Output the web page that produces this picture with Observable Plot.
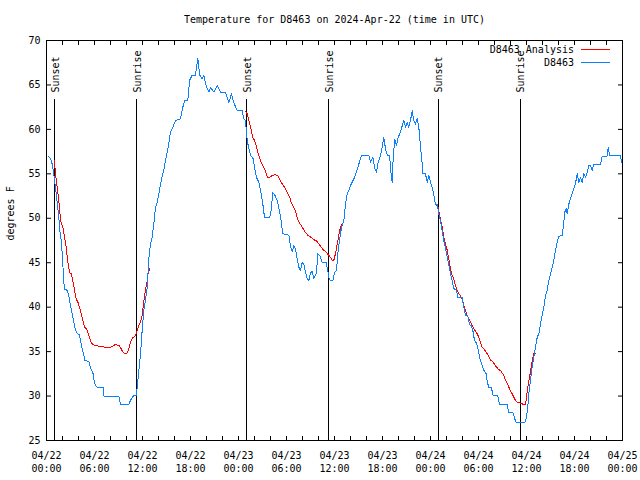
<!DOCTYPE html>
<html><head><meta charset="utf-8">
<script src="https://cdn.jsdelivr.net/npm/d3@7"></script>
<script src="https://cdn.jsdelivr.net/npm/@observablehq/plot@0.6"></script>
<style>body{margin:0;background:#fff} svg{display:block}</style>
</head><body><div id="chart"></div>
<script>
const titleText = "Temperature for D8463 on 2024-Apr-22 (time in UTC)";
const yLabel = "degrees F";
const seriesNames = ["D8463 Analysis", "D8463"];
const seriesColors = ["#ff0000", "#0a80ff"];
const yTicks = [25, 30, 35, 40, 45, 50, 55, 60, 65, 70];

// hours since 2024-04-22 00:00 UTC
const obsHours = [0.2,0.5,0.71,0.91,1.12,1.34,1.54,1.66,1.84,2.0,2.16,2.29,2.59,2.79,3.0,3.29,3.54,3.84,4.12,4.25,4.46,4.66,4.79,5.29,5.5,5.79,5.91,6.12,6.34,7.09,7.16,9.04,9.25,10.29,10.5,10.84,11.21,11.34,11.46,11.62,11.75,11.96,12.16,12.37,12.59,12.79,13.0,13.21,13.41,13.62,13.84,14.04,14.34,14.66,14.96,15.21,15.5,15.79,16.12,16.75,17.04,17.25,17.66,17.88,18.21,18.62,18.91,19.16,19.46,19.66,19.88,20.29,20.5,20.91,21.34,21.75,22.38,22.79,23.12,23.41,23.84,24.46,24.66,24.88,25.0,25.16,25.5,25.84,26.0,26.25,26.54,26.84,27.04,27.25,27.91,28.09,28.29,28.54,28.84,29.16,29.34,29.54,30.29,30.5,30.71,30.91,31.12,31.34,31.54,31.75,31.96,32.16,32.38,32.59,32.79,33.0,33.21,33.41,33.75,33.91,34.16,34.46,34.96,35.16,35.34,35.5,35.79,36.0,36.25,36.41,36.62,36.88,37.16,37.38,37.59,37.79,38.0,38.21,38.5,38.75,39.04,39.38,40.29,40.5,40.79,41.04,41.25,41.46,41.75,42.0,42.16,42.38,42.59,42.88,43.09,43.21,43.34,43.54,43.75,43.96,44.25,44.46,44.66,44.88,45.09,45.29,45.5,45.71,45.91,46.12,46.34,46.54,46.75,46.96,47.04,47.37,47.59,47.79,48.0,48.21,48.41,48.62,48.84,49.04,49.25,49.46,49.66,49.88,50.09,50.29,50.5,50.71,50.91,51.25,51.41,51.96,52.16,52.38,52.66,52.88,53.09,53.29,53.5,53.75,53.91,54.12,54.38,54.66,54.96,55.09,55.29,55.59,55.84,56.41,56.62,57.59,57.79,58.34,58.54,58.75,59.79,60.0,60.16,60.29,60.5,60.71,60.91,61.12,61.34,61.54,61.75,61.96,62.16,62.38,62.59,62.79,63.0,63.21,63.41,63.62,63.84,64.04,64.46,64.59,64.79,64.96,65.09,65.29,65.5,65.84,66.12,66.34,66.54,66.75,66.96,67.16,67.38,67.59,67.79,68.0,68.21,68.41,69.25,69.46,70.09,70.21,70.37,71.75,71.87];
const obsTemps = [57.0,56.7,56.1,55.0,53.5,51.7,50.1,48.6,47.5,45.6,42.8,42.0,41.9,41.3,40.2,38.9,37.7,37.0,36.9,36.25,35.3,34.6,34.0,33.9,33.1,32.7,31.9,31.2,31.0,31.0,30.0,30.0,29.1,29.1,29.5,30.0,30.1,31.0,32.1,33.6,34.75,37.4,39.6,40.75,42.25,45.4,47.1,47.9,49.3,51.25,51.8,52.75,54.25,55.4,56.9,58.0,59.7,60.25,61.0,61.2,62.5,63.2,63.2,65.5,66.1,66.1,68.0,66.1,65.7,66.1,65.1,64.2,64.75,64.2,64.9,64.2,64.2,63.0,64.0,63.0,62.1,62.1,61.2,61.0,59.5,58.4,57.1,56.7,55.75,54.6,54.05,52.75,51.6,50.1,50.1,50.9,52.9,52.6,52.0,50.7,49.6,48.25,48.1,46.9,46.2,46.9,46.6,45.4,44.5,44.1,45.0,44.9,43.9,43.2,43.0,43.9,44.0,43.2,43.9,46.0,45.8,45.0,45.0,44.1,43.2,43.0,43.0,43.9,44.1,46.0,47.5,49.0,49.7,51.6,52.75,53.1,53.7,54.05,54.6,55.2,56.1,57.1,57.1,56.3,56.9,55.6,55.2,56.3,57.1,58.2,59.1,57.8,57.1,57.1,54.8,54.05,56.9,58.9,58.2,59.1,59.7,60.4,61.0,60.25,60.8,60.25,61.0,62.1,61.0,60.6,61.2,60.25,58.0,56.1,55.0,55.0,54.05,54.8,54.05,53.5,52.6,51.6,51.6,50.5,49.7,48.6,47.5,46.6,45.6,44.7,43.75,43.0,42.1,41.9,41.05,41.05,40.0,39.1,39.0,38.05,37.9,37.4,36.25,35.95,35.5,34.4,33.6,32.9,32.5,31.6,31.0,31.0,30.06,30.06,29.05,29.05,28.1,28.1,27.4,27.0,27.0,27.6,28.75,30.25,31.75,33.25,34.4,35.5,36.6,37.0,38.1,39.1,40.0,41.3,41.9,43.0,43.75,44.5,45.25,46.4,47.3,47.95,48.1,49.0,50.7,51.1,50.5,51.6,52.2,53.1,53.9,55.0,54.05,54.6,54.05,55.0,54.6,55.2,55.9,55.9,55.4,56.1,56.1,57.0,57.0,58.0,57.1,57.1,56.3];

// analysis series; null marks a gap between runs
const anaHours = [1.0,1.12,1.34,1.54,1.66,1.84,2.04,2.25,2.46,2.66,2.88,3.09,3.29,3.5,3.71,3.91,4.12,4.34,4.54,4.75,4.96,5.16,5.38,5.59,5.79,6.12,6.54,7.38,8.0,8.21,8.62,9.04,9.25,9.46,9.75,10.0,10.29,10.5,10.79,11.12,11.34,11.54,11.75,11.96,12.16,12.37,12.59,12.71,12.91,null,
24.88,25.09,25.29,25.59,25.79,26.0,26.21,26.41,26.62,26.84,27.04,27.25,27.46,27.66,27.88,28.21,28.62,28.91,29.12,29.34,29.54,29.75,29.96,30.16,30.38,30.59,30.79,31.0,31.21,31.41,31.62,31.84,32.09,32.38,32.66,33.0,33.41,33.84,34.04,34.34,34.66,34.96,35.21,35.5,35.71,35.91,36.12,36.34,36.54,36.75,36.88,null,
48.75,48.91,49.25,49.46,49.66,49.88,50.09,50.29,50.5,50.71,50.91,51.12,51.34,51.54,51.75,51.96,52.16,52.38,52.59,52.79,53.0,53.21,53.41,53.62,53.84,54.04,54.25,54.46,54.66,54.88,55.09,55.29,55.5,55.71,55.91,56.12,56.34,56.54,56.75,56.96,57.16,57.38,57.59,57.79,58.0,58.21,58.41,58.62,58.84,59.25,59.66,59.88,60.0,60.16,60.29,60.5,60.71,60.91,61.12];
const anaTemps = [56.5,55.0,53.5,52.0,50.7,49.4,49.0,47.9,46.75,45.1,43.9,43.75,43.0,41.9,40.9,40.6,40.0,39.25,38.5,37.75,37.6,37.2,36.6,36.05,35.8,35.7,35.6,35.5,35.45,35.6,35.8,35.7,35.45,35.1,34.75,34.75,35.3,36.05,36.55,36.8,37.4,37.95,38.3,39.1,40.6,41.9,43.0,43.9,44.3,null,
62.0,61.75,61.0,59.9,59.1,58.75,58.2,57.4,56.9,56.3,55.9,55.6,55.0,54.6,54.6,54.8,54.9,54.8,54.4,54.05,53.8,53.5,53.1,52.75,52.4,51.8,51.4,51.1,50.5,49.9,49.45,49.2,48.8,48.4,48.1,47.9,47.6,47.4,47.1,46.75,46.4,46.2,45.9,45.6,45.3,45.25,46.0,47.1,48.1,49.0,49.3,null,
51.4,51.4,49.8,49.0,47.9,47.1,46.4,45.4,44.3,43.6,43.2,42.4,41.9,41.5,41.3,40.9,40.2,39.6,39.1,38.7,38.3,37.95,37.6,37.3,37.0,36.6,36.05,35.5,35.3,35.05,34.75,34.45,34.05,33.9,33.7,33.4,33.2,32.95,32.9,32.6,32.3,31.75,31.4,31.0,30.6,30.25,29.9,29.5,29.3,29.2,29.05,29.0,29.9,31.0,31.75,32.7,34.0,34.75,34.75];

const eventLabels = ["Sunset", "Sunrise", "Sunset", "Sunrise", "Sunset", "Sunrise"];
const eventHours = [1.05, 11.3, 25.05, 35.3, 48.95, 59.2];

const start = Date.UTC(2024, 3, 22);
const toDate = h => (h == null ? null : new Date(start + h * 3600e3));
const obs = obsHours.map((h, i) => ({t: toDate(h), v: obsTemps[i]}));
const ana = anaHours.map((h, i) => ({t: toDate(h), v: anaTemps[i]}));
const events = eventHours.map((h, i) => ({t: toDate(h), label: eventLabels[i]}));
const x0 = toDate(0), x1 = toDate(72);
const xMajor = d3.utcHour.every(6).range(x0, new Date(+x1 + 1));
const xMinor = d3.utcHour.every(2).range(x0, new Date(+x1 + 1));
const blank = () => "";

const chart = Plot.plot({
  width: 640, height: 480,
  marginLeft: 46, marginRight: 18, marginTop: 40, marginBottom: 40,
  style: {fontFamily: "'DejaVu Sans Mono', monospace", fontSize: "10px", color: "black", background: "white"},
  x: {type: "utc", domain: [x0, x1]},
  y: {domain: [25, 70]},
  marks: [
    Plot.ruleX(events, {x: "t", insetTop: 59, stroke: "black", strokeWidth: 1, shapeRendering: "crispEdges"}),
    Plot.text(events, {x: "t", text: "label", frameAnchor: "top", rotate: -90, textAnchor: "start", lineAnchor: "middle", dy: 52, dx: 1, fill: "black"}),
    Plot.line(ana, {x: "t", y: "v", stroke: seriesColors[0], strokeWidth: 1, shapeRendering: "crispEdges"}),
    Plot.line(obs, {x: "t", y: "v", stroke: seriesColors[1], strokeWidth: 1, shapeRendering: "crispEdges"}),
    Plot.axisX(xMinor, {anchor: "bottom", tickSize: 4, dy: -4, tickFormat: blank, label: null, stroke: "black"}),
    Plot.axisX(xMinor, {anchor: "top", tickSize: 4, dy: 4, tickFormat: blank, label: null, stroke: "black"}),
    Plot.axisY(yTicks, {anchor: "left", tickSize: 5, dx: 5, tickFormat: blank, label: null, stroke: "black"}),
    Plot.axisY(yTicks, {anchor: "right", tickSize: 5, dx: -5, tickFormat: blank, label: null, stroke: "black"}),
    Plot.axisX(xMajor, {anchor: "bottom", tickSize: 0, tickPadding: 9, tickFormat: d3.utcFormat("%m/%d\n%H:%M"), lineHeight: 1.3, label: null, fill: "black"}),
    Plot.axisY(yTicks, {anchor: "left", tickSize: 0, tickPadding: 6, label: null, fill: "black"}),
    Plot.frame({stroke: "black", strokeWidth: 1, shapeRendering: "crispEdges"}),
    Plot.text([titleText], {frameAnchor: "top", dy: -21, lineAnchor: "middle", fill: "black"}),
    Plot.text([yLabel], {frameAnchor: "left", dx: -36, rotate: -90, lineAnchor: "middle", fill: "black"})
  ]
});
document.getElementById("chart").appendChild(chart);

// legend (top-right inside the frame)
const svg = d3.select(chart);
const legendRows = [{y: 49.5}, {y: 62.5}];
seriesNames.forEach((name, i) => {
  const y = legendRows[i].y;
  svg.append("text").attr("x", 574).attr("y", y).attr("dy", "0.35em")
    .attr("text-anchor", "end").attr("fill", "black").text(name);
  svg.append("line").attr("x1", 581).attr("x2", 610).attr("y1", y).attr("y2", y)
    .attr("stroke", seriesColors[i]).attr("stroke-width", 1).attr("shape-rendering", "crispEdges");
});
</script>
</body></html>
